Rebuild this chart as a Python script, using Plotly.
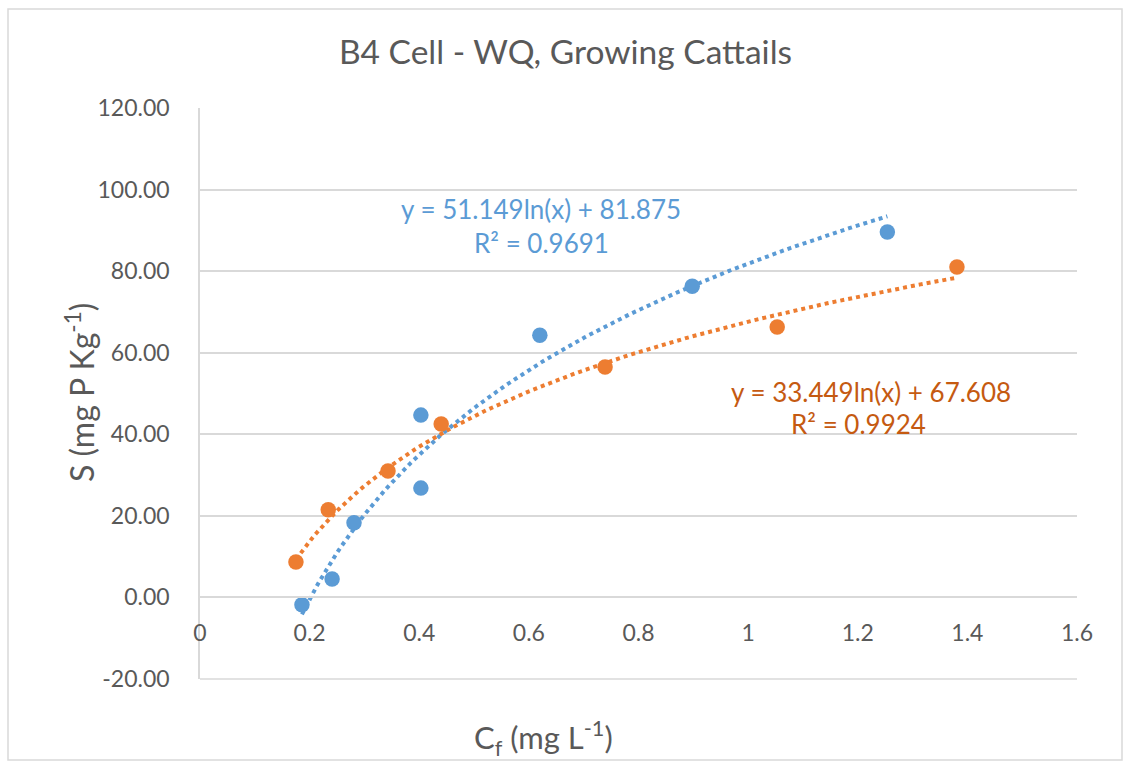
import numpy as np
import plotly.graph_objects as go

# ---- data ----
blue_x = [0.186, 0.241, 0.281, 0.403, 0.403, 0.620, 0.898, 1.254]
blue_y = [-1.8, 4.5, 18.3, 44.7, 26.8, 64.3, 76.3, 89.6]
orange_x = [0.175, 0.234, 0.343, 0.440, 0.739, 1.053, 1.381]
orange_y = [8.7, 21.5, 31.0, 42.5, 56.5, 66.3, 81.0]

blue_fit = (51.149, 81.875)    # y = a ln(x) + b
orange_fit = (33.449, 67.608)
blue_r2 = "0.9691"
orange_r2 = "0.9924"

x_ticks = [0, 0.2, 0.4, 0.6, 0.8, 1.0, 1.2, 1.4, 1.6]
x_ticktext = ["0", "0.2", "0.4", "0.6", "0.8", "1", "1.2", "1.4", "1.6"]
y_ticks = [-20, 0, 20, 40, 60, 80, 100, 120]
y_ticktext = ["-20.00", "0.00", "20.00", "40.00", "60.00", "80.00", "100.00", "120.00"]

title = "B4 Cell - WQ, Growing Cattails"
x_title = "C<sub>f</sub> (mg L<sup>-1</sup>)"
y_title = "S (mg P Kg<sup>-1</sup>)"

BLUE = "#5B9BD5"
ORANGE = "#ED7D31"
ORANGE_TXT = "#C55A11"
GRID = "#D9D9D9"
TXT = "#595959"
FONT = "Lato, Open Sans, sans-serif"

W, H = 1125, 762
L, R, T, B = 200, 1077, 108, 679


def px_x(p):
    return (p - L) / (R - L)


def px_y(p):
    return (B - p) / (B - T)


def trend(xs, fit, n=200):
    xx = np.linspace(min(xs), max(xs), n)
    return xx, fit[0] * np.log(xx) + fit[1]


fig = go.Figure()
bx, by = trend(blue_x, blue_fit)
ox, oy = trend(orange_x, orange_fit)
fig.add_trace(go.Scatter(x=bx, y=by, mode="lines",
                         line=dict(color=BLUE, width=4, dash="4px,4px"), showlegend=False))
fig.add_trace(go.Scatter(x=ox, y=oy, mode="lines",
                         line=dict(color=ORANGE, width=4, dash="4px,4px"), showlegend=False))
fig.add_trace(go.Scatter(x=blue_x, y=blue_y, mode="markers",
                         marker=dict(color=BLUE, size=15.5), showlegend=False))
fig.add_trace(go.Scatter(x=orange_x, y=orange_y, mode="markers",
                         marker=dict(color=ORANGE, size=15.5), showlegend=False))

zero_pos = (0 - y_ticks[0]) / (y_ticks[-1] - y_ticks[0])

fig.update_layout(
    width=W, height=H,
    margin=dict(l=L, r=W - R, t=T, b=H - B, pad=0),
    paper_bgcolor="white", plot_bgcolor="white",
    font=dict(family=FONT, color=TXT),
    title=dict(text=title, x=565.5 / W, xref="container",
               y=1 - 52 / H, yref="container", xanchor="center", yanchor="middle",
               font=dict(size=33.5, color=TXT, family=FONT)),
    xaxis=dict(range=[0, 1.6], tickvals=x_ticks, ticktext=x_ticktext,
               showgrid=False, zeroline=False, showline=True, linecolor=GRID, linewidth=1.5,
               anchor="free", position=zero_pos, ticks="", ticklabelstandoff=15,
               tickfont=dict(size=23, color=TXT, family=FONT)),
    yaxis=dict(range=[-20, 120], tickvals=y_ticks, ticktext=y_ticktext,
               showgrid=True, gridcolor=GRID, gridwidth=1.5,
               zeroline=False, showline=True, linecolor=GRID, linewidth=1.5,
               ticks="", ticklabelstandoff=24,
               tickfont=dict(size=23, color=TXT, family=FONT)),
)

ann = [
    dict(text=y_title, x=px_x(80), y=px_y(393), textangle=-90, font=dict(size=32, color=TXT)),
    dict(text=x_title, x=px_x(543), y=px_y(738), font=dict(size=31, color=TXT)),
    dict(text="y = %.3fln(x) + %.3f" % blue_fit, x=px_x(541), y=px_y(209),
         font=dict(size=26, color=BLUE)),
    dict(text="R² = " + blue_r2, x=px_x(541), y=px_y(243), font=dict(size=26, color=BLUE)),
    dict(text="y = %.3fln(x) + %.3f" % orange_fit, x=px_x(871), y=px_y(392),
         font=dict(size=26, color=ORANGE_TXT)),
    dict(text="R² = " + orange_r2, x=px_x(858), y=px_y(424), font=dict(size=26, color=ORANGE_TXT)),
]
for a in ann:
    a.update(xref="paper", yref="paper", showarrow=False, xanchor="center", yanchor="middle")
    a["font"]["family"] = FONT
    fig.add_annotation(**a)

# bottom gridline at the lower range edge (plotly omits it at the edge)
fig.add_shape(type="line", xref="paper", yref="paper", x0=0, x1=1, y0=0, y1=0,
              line=dict(color=GRID, width=1.5), layer="below")
# chart-area border
fig.add_shape(type="rect", xref="paper", yref="paper",
              x0=px_x(8), x1=px_x(1122), y0=px_y(760), y1=px_y(9),
              line=dict(color=GRID, width=1.5), layer="below")

fig.write_html("out.html")
